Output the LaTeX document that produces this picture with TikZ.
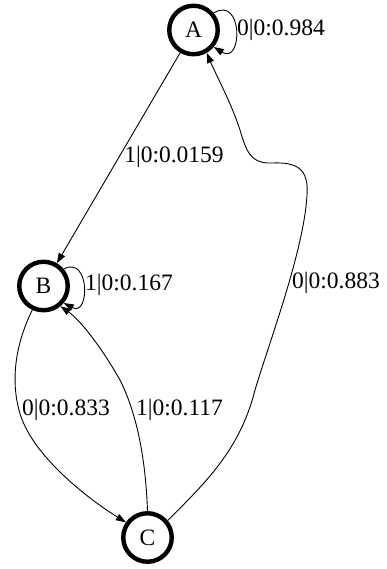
\documentclass[tikz,border=0pt]{standalone}
\usepackage{fontspec}
\setmainfont{Liberation Serif}
\usetikzlibrary{arrows.meta}
\begin{document}
\begin{tikzpicture}[x=1pt,y=-1pt,
  state/.style={circle,draw,line width=4.4pt,minimum size=48.5pt,inner sep=0pt,font=\fontsize{23.5}{28}\selectfont},
  edge/.style={draw,line width=0.9pt,-{Triangle[length=10pt,width=7pt]}},
  lbl/.style={inner sep=0pt,font=\fontsize{23.5}{28}\selectfont}]
\useasboundingbox (0,0) rectangle (387,569);
\node[state] (A) at (193.5,30) {A};
\node[state] (B) at (43.5,286) {B};
\node[state] (C) at (147.5,537.5) {C};
% self loops
\draw[edge] (A.40) .. controls (243,-5) and (243,65) .. (A.-40);
\node[lbl,anchor=west] (lA) at (237,30) {0|0:0.984};
\draw[edge] (B.40) .. controls (90,255) and (90,317) .. (B.-40);
\node[lbl,anchor=west] (lB) at (85,285) {1|0:0.167};
% A -> B
\draw[edge] (A) -- (B);
\node[lbl] (lAB) at (174,157) {1|0:0.0159};
% C -> A
\draw[edge] (C.40) .. controls (205,483) and (240,450) .. (255,390)
  .. controls (270,340) and (304,250) .. (307,195)
  .. controls (309,168) and (296,162) .. (272,163)
  .. controls (250,164) and (246,150) .. (240,130)
  .. controls (230,100) and (216,75) .. (A.-60);
\node[lbl,anchor=west] (lCA) at (292,283) {0|0:0.883};
% B -> C
\draw[edge] (B.-115) .. controls (15,345) and (11,380) .. (19,410)
  .. controls (30,455) and (90,500) .. (C.145);
\node[lbl,anchor=west] (lBC) at (22,410) {0|0:0.833};
% C -> B
\draw[edge] (C.90) .. controls (146,470) and (140,420) .. (120,380)
  .. controls (100,345) and (80,320) .. (B.-50);
\node[lbl,anchor=west] (lCB) at (136,410) {1|0:0.117};
\end{tikzpicture}
\end{document}
